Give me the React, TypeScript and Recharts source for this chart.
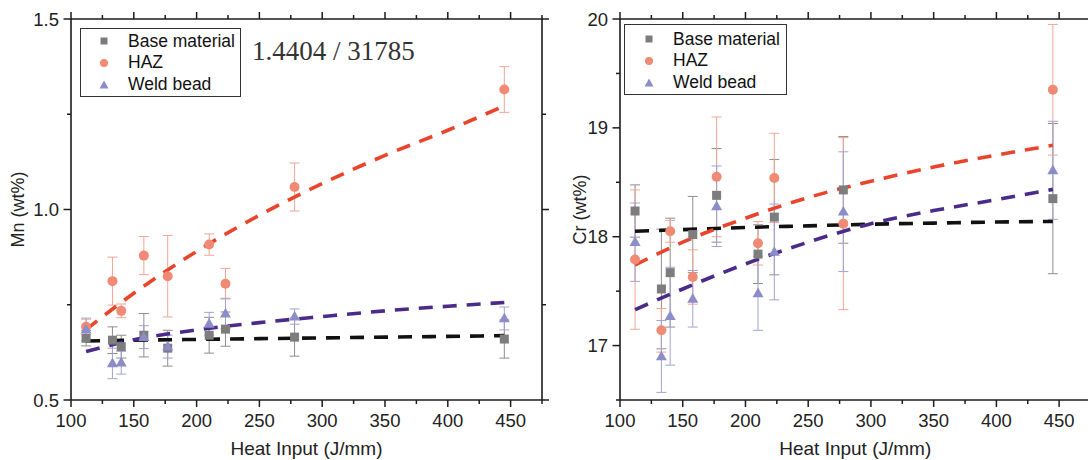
import React from 'react';
import { ComposedChart, Scatter, Line, XAxis, YAxis, ErrorBar, Legend } from 'recharts';

// measured heat input of each weld (J/mm)
const heatInput = [112, 133, 140, 158, 177, 210, 223, 278, 445];

// Mn (wt%)
const mnBase = [0.662, 0.657, 0.64, 0.67, 0.636, 0.67, 0.686, 0.665, 0.66];
const mnBaseErr = [0.02, 0.035, 0.03, 0.057, 0.047, 0.047, 0.045, 0.05, 0.05];
const mnHaz = [0.692, 0.812, 0.734, 0.879, 0.825, 0.908, 0.805, 1.059, 1.315];
const mnHazErr = [0.02, 0.063, 0.018, 0.05, 0.107, 0.028, 0.04, 0.063, 0.06];
const mnWeld = [0.685, 0.596, 0.598, 0.665, 0.64, 0.7, 0.727, 0.719, 0.714];
const mnWeldErr = [0.03, 0.04, 0.03, 0.03, 0.03, 0.03, 0.04, 0.02, 0.03];

// Cr (wt%)
const crBase = [18.236, 17.52, 17.67, 18.02, 18.38, 17.84, 18.18, 18.43, 18.35];
const crBaseErr = [0.24, 0.55, 0.5, 0.35, 0.43, 0.27, 0.53, 0.49, 0.69];
const crHaz = [17.79, 17.14, 18.05, 17.63, 18.55, 17.94, 18.54, 18.12, 19.35];
const crHazErr = [0.64, 0.2, 0.1, 0.25, 0.55, 0.2, 0.41, 0.79, 0.6];
const crWeld = [17.95, 16.9, 17.27, 17.43, 18.28, 17.48, 17.86, 18.23, 18.61];
const crWeldErr = [0.36, 0.33, 0.45, 0.26, 0.37, 0.34, 0.44, 0.55, 0.45];

// fitted trend lines
const fitInput = [112, 150, 200, 250, 300, 350, 400, 445];
const mnBaseFit = [0.655, 0.657, 0.659, 0.661, 0.663, 0.665, 0.667, 0.669];
const mnHazFit = [0.685, 0.78, 0.89, 0.985, 1.068, 1.142, 1.208, 1.272];
const mnWeldFit = [0.627, 0.658, 0.684, 0.703, 0.719, 0.734, 0.746, 0.756];
const crBaseFit = [18.05, 18.065, 18.085, 18.1, 18.115, 18.125, 18.135, 18.14];
const crHazFit = [17.74, 17.95, 18.17, 18.36, 18.51, 18.64, 18.75, 18.84];
const crWeldFit = [17.33, 17.52, 17.75, 17.95, 18.12, 18.24, 18.34, 18.435];

const xTicks = [100, 125, 150, 175, 200, 225, 250, 275, 300, 325, 350, 375, 400, 425, 450, 475];
const mnTicks = [0.5, 0.75, 1, 1.25, 1.5];
const crTicks = [16.5, 17, 17.5, 18, 18.5, 19, 19.5, 20];
const seriesNames = ['Base material', 'HAZ', 'Weld bead'];

const FONT = '"Liberation Sans", Arial, sans-serif';
const AXIS = '#1c1c1c';
const BASE = '#7d7d7d';
const HAZ = '#f08a74';
const WELD = '#8c8cc9';

const points = (ys: number[], errs: number[]) => heatInput.map((x, i) => ({ x, y: ys[i], e: errs[i] }));
const curve = (ys: number[]) => fitInput.map((x, i) => ({ x, y: ys[i] }));

const square = (p: any) => <rect x={p.cx - 4.5} y={p.cy - 4.5} width={9} height={9} fill={BASE} />;
const circle = (p: any) => <circle cx={p.cx} cy={p.cy} r={5} fill={HAZ} />;
const triangle = (p: any) => (
  <path d={`M${p.cx},${p.cy - 5.8} L${p.cx + 5.5},${p.cy + 3.9} L${p.cx - 5.5},${p.cy + 3.9} Z`} fill={WELD} />
);

function LegendMarker({ i }: { i: number }) {
  return (
    <svg width={12} height={12} style={{ display: 'block' }}>
      {i === 0 && <rect x={2.5} y={2.5} width={7} height={7} fill={BASE} />}
      {i === 1 && <circle cx={6} cy={6} r={4} fill={HAZ} />}
      {i === 2 && <path d="M6,1.5 L10.5,9.5 L1.5,9.5 Z" fill={WELD} />}
    </svg>
  );
}

function LegendBox({ markerX, textX, width, height, padTop }: any) {
  return (
    <div
      style={{
        position: 'relative', width, height, boxSizing: 'border-box', border: `1.5px solid #333`,
        background: '#fff', fontFamily: FONT, fontSize: 17.5, color: '#111', paddingTop: padTop,
      }}
    >
      {seriesNames.map((name, i) => (
        <div key={name} style={{ position: 'relative', height: 21.7, lineHeight: '21.7px' }}>
          <div style={{ position: 'absolute', left: markerX - 6, top: 4.85 }}>
            <LegendMarker i={i} />
          </div>
          <span style={{ position: 'absolute', left: textX, whiteSpace: 'nowrap' }}>{name}</span>
        </div>
      ))}
    </div>
  );
}

const bottomTick = (p: any) => {
  const major = p.payload.value % 50 === 0 && p.payload.value < 475;
  return (
    <g>
      <line x1={p.x} x2={p.x} y1={p.y} y2={p.y + (p.payload.value % 50 === 0 ? 7 : 4)} stroke={AXIS} strokeWidth={1.5} />
      {major && (
        <text x={p.x} y={p.y + 27} textAnchor="middle" fontSize={18.5} fontFamily={FONT} fill="#222">
          {p.payload.value}
        </text>
      )}
    </g>
  );
};

const topTick = (p: any) => (
  <line x1={p.x} x2={p.x} y1={p.y} y2={p.y - (p.payload.value % 50 === 0 ? 7 : 4)} stroke={AXIS} strokeWidth={1.5} />
);

const leftTick = (isMajor: (v: number) => boolean, fmt: (v: number) => string) => (p: any) => {
  const v = p.payload.value;
  const major = isMajor(v);
  return (
    <g>
      <line x1={p.x} x2={p.x - (major ? 7.5 : 4)} y1={p.y} y2={p.y} stroke={AXIS} strokeWidth={1.5} />
      {major && (
        <text x={p.x - 12} y={p.y + 6.5} textAnchor="end" fontSize={18.5} fontFamily={FONT} fill="#222">
          {fmt(v)}
        </text>
      )}
    </g>
  );
};

const rightTick = (isMajor: (v: number) => boolean) => (p: any) => (
  <line x1={p.x} x2={p.x + (isMajor(p.payload.value) ? 7 : 4)} y1={p.y} y2={p.y} stroke={AXIS} strokeWidth={1.5} />
);

function Panel(props: any) {
  const { width, leftWidth, rightMargin, yDomain, yTicks, isMajor, fmt, yLabel, legend } = props;
  const axisLine = { stroke: AXIS, strokeWidth: 1.6 };
  const fitLine = (data: any[], color: string) => (
    <Line
      data={data} dataKey="y" type="monotone" stroke={color} strokeWidth={3.6} strokeDasharray="14 10"
      dot={false} activeDot={false} isAnimationActive={false} xAxisId="b" yAxisId="l" legendType="none"
    />
  );
  return (
    <ComposedChart width={width} height={460} margin={{ top: 0, right: rightMargin, bottom: 0, left: 0 }}>
      <XAxis
        xAxisId="b" dataKey="x" type="number" domain={[100, 475]} ticks={xTicks} interval={0} allowDataOverflow
        height={60} axisLine={axisLine} tickLine={false} tickSize={0} tickMargin={0} tick={bottomTick}
        label={{ value: 'Heat Input (J/mm)', position: 'insideBottom', offset: 5, style: { fontSize: 19, fontFamily: FONT, fill: '#222' } }}
      />
      <XAxis
        xAxisId="t" orientation="top" dataKey="x" type="number" domain={[100, 475]} ticks={xTicks} interval={0}
        allowDataOverflow height={19} axisLine={axisLine} tickLine={false} tickSize={0} tickMargin={0} tick={topTick}
      />
      <YAxis
        yAxisId="l" dataKey="y" type="number" domain={yDomain} ticks={yTicks} interval={0} allowDataOverflow
        width={leftWidth} axisLine={axisLine} tickLine={false} tickSize={0} tickMargin={0} tick={leftTick(isMajor, fmt)}
        label={{ value: yLabel, angle: -90, position: 'insideLeft', offset: props.labelOffset, style: { textAnchor: 'middle', fontSize: 18, fontFamily: FONT, fill: '#222' } }}
      />
      <YAxis
        yAxisId="r" orientation="right" dataKey="y" type="number" domain={yDomain} ticks={yTicks} interval={0}
        allowDataOverflow width={10} axisLine={axisLine} tickLine={false} tickSize={0} tickMargin={0} tick={rightTick(isMajor)}
      />
      <Legend
        layout="vertical" align="center" verticalAlign="middle"
        wrapperStyle={{ left: legend.left, top: legend.top, width: legend.width, height: legend.height }}
        content={() => <LegendBox {...legend} />}
      />
      <Scatter name="Base material" data={points(props.base, props.baseErr)} dataKey="y" xAxisId="b" yAxisId="l" shape={square} isAnimationActive={false}>
        <ErrorBar dataKey="e" direction="y" width={5} stroke="#8e8e8e" strokeWidth={1} />
      </Scatter>
      <Scatter name="HAZ" data={points(props.haz, props.hazErr)} dataKey="y" xAxisId="b" yAxisId="l" shape={circle} isAnimationActive={false}>
        <ErrorBar dataKey="e" direction="y" width={5} stroke="#f3a595" strokeWidth={1} />
      </Scatter>
      <Scatter name="Weld bead" data={points(props.weld, props.weldErr)} dataKey="y" xAxisId="b" yAxisId="l" shape={triangle} isAnimationActive={false}>
        <ErrorBar dataKey="e" direction="y" width={5} stroke="#a3a3d3" strokeWidth={1} />
      </Scatter>
      {fitLine(curve(props.baseFit), '#111111')}
      {fitLine(curve(props.hazFit), '#e8452c')}
      {fitLine(curve(props.weldFit), '#4a2b8a')}
    </ComposedChart>
  );
}

export default function App() {
  const halfStep = (v: number) => Math.abs(v * 2 - Math.round(v * 2)) < 1e-6;
  const whole = (v: number) => Math.abs(v - Math.round(v)) < 1e-6;
  return (
    <div style={{ position: 'absolute', left: 0, top: 0, width: 1088, height: 460, overflow: 'hidden', background: '#fff' }}>
      <div style={{ position: 'absolute', left: 0, top: 0 }}>
        <Panel
          width={560} leftWidth={71} rightMargin={8} labelOffset={18}
          yDomain={[0.5, 1.5]} yTicks={mnTicks} isMajor={halfStep} fmt={(v: number) => v.toFixed(1)} yLabel="Mn (wt%)"
          base={mnBase} baseErr={mnBaseErr} haz={mnHaz} hazErr={mnHazErr} weld={mnWeld} weldErr={mnWeldErr}
          baseFit={mnBaseFit} hazFit={mnHazFit} weldFit={mnWeldFit}
          legend={{ left: 80, top: 28, width: 161, height: 69, markerX: 22.7, textX: 47, padTop: 1.5 }}
        />
      </div>
      <div style={{ position: 'absolute', left: 560, top: 0 }}>
        <Panel
          width={548} leftWidth={60} rightMargin={7.5} labelOffset={20}
          yDomain={[16.5, 20]} yTicks={crTicks} isMajor={whole} fmt={(v: number) => String(v)} yLabel="Cr (wt%)"
          base={crBase} baseErr={crBaseErr} haz={crHaz} hazErr={crHazErr} weld={crWeld} weldErr={crWeldErr}
          baseFit={crBaseFit} hazFit={crHazFit} weldFit={crWeldFit}
          legend={{ left: 64, top: 24, width: 163, height: 71, markerX: 24.3, textX: 48, padTop: 3.5 }}
        />
      </div>
      <div
        style={{
          position: 'absolute', left: 252, top: 37.5, fontFamily: '"Liberation Serif", "Times New Roman", serif',
          fontSize: 27, lineHeight: 1, color: '#333', whiteSpace: 'nowrap',
        }}
      >
        1.4404 / 31785
      </div>
    </div>
  );
}
